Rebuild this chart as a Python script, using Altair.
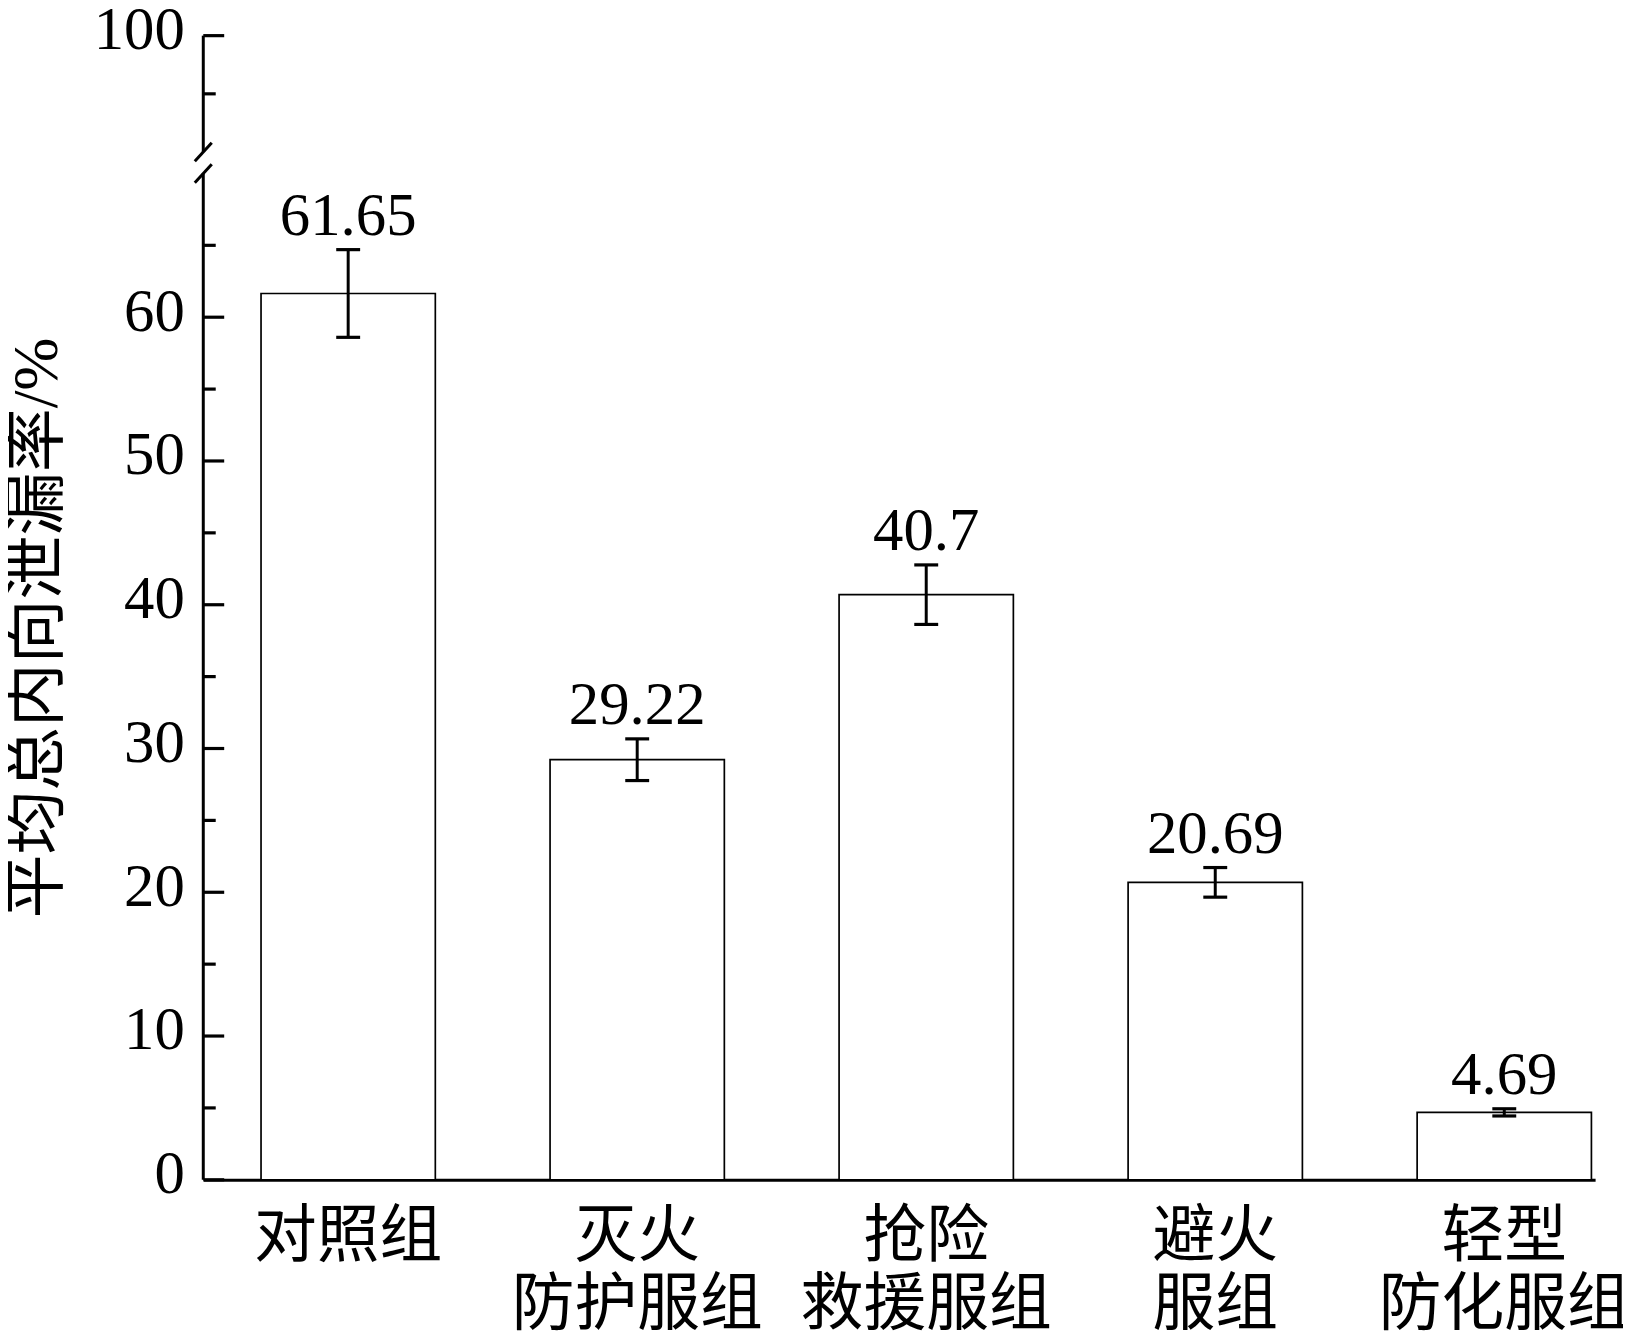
import altair as alt
import pandas as pd

# ---- data ----
categories = ["对照组", "灭火|防护服组", "抢险|救援服组", "避火|服组", "轻型|防化服组"]
values = [61.65, 29.22, 40.7, 20.69, 4.69]
errors = [3.05, 1.45, 2.07, 1.03, 0.25]
value_labels = ["61.65", "29.22", "40.7", "20.69", "4.69"]

major_ticks = [0, 10, 20, 30, 40, 50, 60, 100]
minor_ticks = [5, 15, 25, 35, 45, 55, 65, 95]
segment_lo = [0, 90]
segment_hi = [70, 100]
break_at = [70, 90]
y_title = "平均总内向泄漏率/%"

# ---- layout ----
W = 1397
H = 1148.4
px_lower = 14.43   # px per unit, 0-70 segment
px_upper = 11.68   # px per unit, 90-100 segment
y_range = [H, H - 70 * px_lower, 10 * px_upper, 0]
FONT = "Liberation Serif, Noto Sans CJK SC"
FS = 61

df = pd.DataFrame({
    "cat": categories,
    "value": values,
    "lo": [v - e for v, e in zip(values, errors)],
    "hi": [v + e for v, e in zip(values, errors)],
    "label": value_labels,
})
df_major = pd.DataFrame({"v": major_ticks})
df_minor = pd.DataFrame({"v": minor_ticks})
df_seg = pd.DataFrame({"lo": segment_lo, "hi": segment_hi})
df_brk = pd.DataFrame({"b": break_at})

yscale = alt.Scale(domain=[0, 70, 90, 100], range=y_range, zero=False, nice=False)
xscale = alt.Scale(paddingInner=0.397, paddingOuter=0.1063, align=0.94)

x_enc = alt.X(
    "cat:N", sort=categories, scale=xscale, title=None,
    axis=alt.Axis(
        labelExpr="split(datum.label, '|')", labelAngle=0, labelFont=FONT,
        labelFontSize=63, labelColor="black", labelLineHeight=68, labelLimit=0,
        labelPadding=26, labelBaseline="top", ticks=False, domainColor="black",
        domainWidth=3, labelAlign="center", grid=False,
    ),
)

y_axis = alt.Axis(
    values=major_ticks, domain=False, ticks=False, tickSize=0, grid=False,
    labelFont=FONT, labelFontSize=FS, labelColor="black", labelPadding=19,
    labelOffset=-5,
    title=y_title, titleFont=FONT, titleFontSize=64, titleFontWeight="normal",
    titleColor="black", titleX=-166, titleY=594, titleAlign="center",
    titleBaseline="middle", titleAngle=270,
)


def Y(field):
    return alt.Y(field, scale=yscale, axis=y_axis)


bars = alt.Chart(df).mark_bar(fill="white", stroke="black", strokeWidth=1.7).encode(
    x=x_enc, y=Y("value:Q"), y2=alt.datum(0),
)
err = alt.Chart(df).mark_rule(color="black", strokeWidth=3).encode(
    x=x_enc, y=Y("lo:Q"), y2="hi:Q"
)
cap_lo = alt.Chart(df).mark_tick(color="black", size=24, thickness=3.2, opacity=1).encode(
    x=x_enc, y=Y("lo:Q")
)
cap_hi = alt.Chart(df).mark_tick(color="black", size=24, thickness=3.2, opacity=1).encode(
    x=x_enc, y=Y("hi:Q")
)
txt = alt.Chart(df).mark_text(
    font=FONT, fontSize=FS, color="black", baseline="alphabetic", dy=-15
).encode(x=x_enc, y=Y("hi:Q"), text="label:N")

axis_line = alt.Chart(df_seg).mark_rule(color="black", strokeWidth=3).encode(
    x=alt.value(0), y=Y("lo:Q"), y2="hi:Q"
)
major = alt.Chart(df_major).mark_rule(color="black", strokeWidth=3.2).encode(
    x=alt.value(0), x2=alt.value(21), y=Y("v:Q")
)
minor = alt.Chart(df_minor).mark_rule(color="black", strokeWidth=3.2).encode(
    x=alt.value(0), x2=alt.value(12.5), y=Y("v:Q")
)
brk = alt.Chart(df_brk).mark_rule(color="black", strokeWidth=3, yOffset=9.3, y2Offset=-9.3).encode(
    x=alt.value(-8.5), x2=alt.value(8.5), y=Y("b:Q"), y2="b:Q"
)

chart = alt.layer(bars, err, cap_lo, cap_hi, txt, axis_line, major, minor, brk).properties(
    width=W, height=H,
    autosize=alt.AutoSizeParams(type="none"),
    padding={"left": 196, "top": 25.3, "right": 28, "bottom": 150},
).configure(background="white").configure_view(strokeWidth=0, stroke="transparent")

chart.save("out.html", embed_options={"renderer": "svg", "actions": False})
